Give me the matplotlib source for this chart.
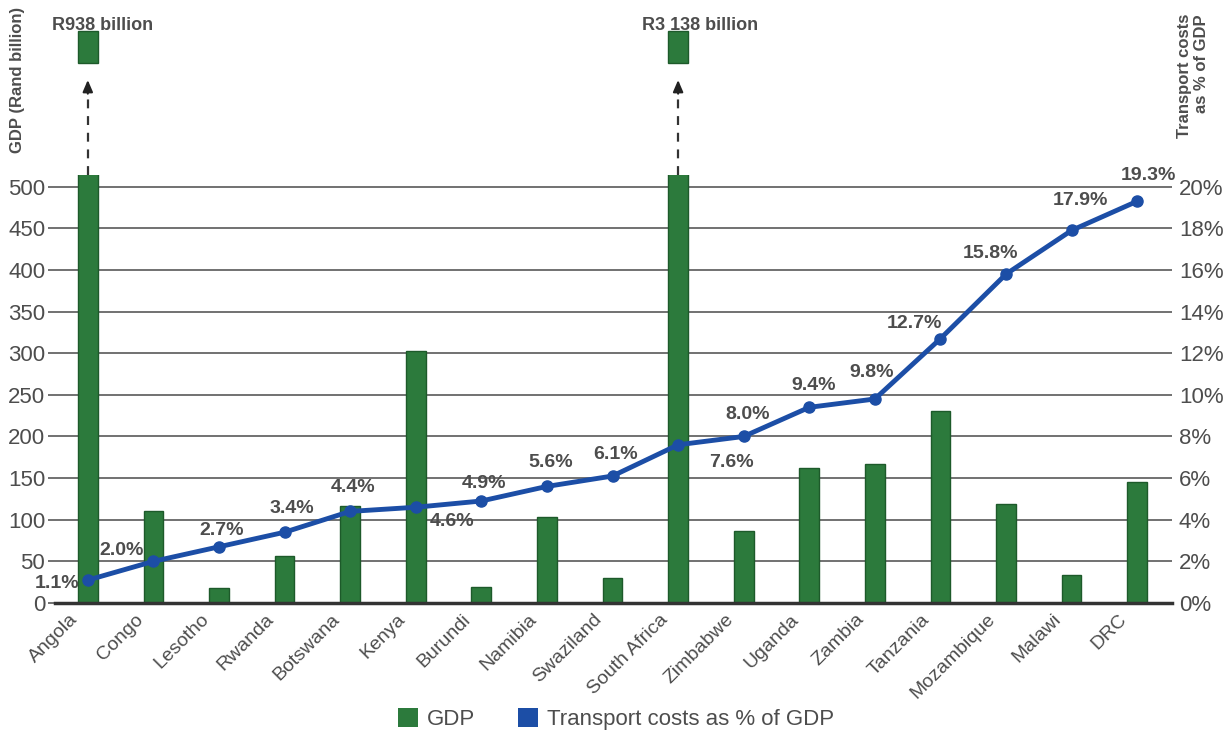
import matplotlib.pyplot as plt
import matplotlib.transforms as mtransforms
from matplotlib.patches import Patch, Rectangle
from matplotlib.ticker import FuncFormatter

plt.rcParams['font.family'] = ['Liberation Sans', 'DejaVu Sans']

# data
countries = ['Angola', 'Congo', 'Lesotho', 'Rwanda', 'Botswana', 'Kenya', 'Burundi',
             'Namibia', 'Swaziland', 'South Africa', 'Zimbabwe', 'Uganda', 'Zambia',
             'Tanzania', 'Mozambique', 'Malawi', 'DRC']
gdp = [938, 111, 18, 57, 117, 303, 19, 103, 30, 3138, 87, 162, 167, 231, 119, 34, 145]
transport_pct = [1.1, 2.0, 2.7, 3.4, 4.4, 4.6, 4.9, 5.6, 6.1, 7.6, 8.0, 9.4, 9.8,
                 12.7, 15.8, 17.9, 19.3]
off_scale = {0: 'R938 billion', 9: 'R3 138 billion'}

# label offsets in pixels (dx, dy)
label_off = [(-31, -3), (-32, 11), (3, 16), (7, 24), (3, 24), (36, -14), (3, 17), (4, 24),
             (3, 22), (53, -18), (4, 22), (4, 22), (-3, 26), (-26, 15), (-16, 21), (9, 30),
             (11, 26)]

green = '#2c7a3c'
green_edge = '#1d5a2a'
blue = '#1c4ea6'
txt = '#4d4d4d'
grid_c = '#4a4a4a'

fig = plt.figure(figsize=(12.32, 7.36), dpi=100)
ax = fig.add_axes([55 / 1232, 1 - 603 / 736, (1172 - 55) / 1232, 428 / 736])

x = list(range(len(countries)))
ax.bar(x, gdp, width=0.3, color=green, edgecolor=green_edge, linewidth=1, zorder=2)
ax.set_xlim(-0.5, 16.53)
ax.set_ylim(0, 514)
ax.set_yticks(range(0, 501, 50))
ax.yaxis.grid(True, color=grid_c, lw=1.1)
ax.set_axisbelow(True)
ax.set_xticks(x)
ax.set_xticklabels([])
ax.tick_params(axis='x', length=0)
ax.tick_params(axis='y', length=5, color=grid_c, width=1.1, pad=2, labelsize=16,
               labelcolor=txt)
for s in ['top', 'left', 'right']:
    ax.spines[s].set_visible(False)
ax.spines['bottom'].set_color('#333333')
ax.spines['bottom'].set_linewidth(2.5)
ax.spines['bottom'].set_zorder(3)

# country names, rotated
for i, name in enumerate(countries):
    ax.annotate(name, xy=(i, 0), xycoords=('data', 'axes fraction'), xytext=(-19, -8),
                textcoords='offset pixels', rotation=45, ha='right', va='top',
                rotation_mode='anchor', fontsize=14, color=txt, annotation_clip=False)

ax2 = ax.twinx()
ax2.plot(x, transport_pct, color=blue, lw=3.5, marker='o', ms=8, mfc=blue, mec=blue,
         solid_joinstyle='round', zorder=4)
ax2.set_ylim(0, 514 / 25)
ax2.set_yticks(range(0, 21, 2))
ax2.yaxis.set_major_formatter(FuncFormatter(lambda v, p: f'{v:.0f}%'))
ax2.tick_params(axis='y', length=0, pad=5, labelsize=16, labelcolor=txt)
for s in ['top', 'left', 'right', 'bottom']:
    ax2.spines[s].set_visible(False)

for i, v in enumerate(transport_pct):
    ax2.annotate(f'{v:.1f}%', xy=(i, v), xytext=label_off[i], textcoords='offset pixels',
                 ha='center', va='center', fontsize=14, fontweight='bold', color=txt,
                 zorder=5)

# bars that run off the scale
trans = mtransforms.blended_transform_factory(ax.transData, ax.transAxes)
for i, lab in off_scale.items():
    ax.plot([i, i], [1.0, 1.2], transform=trans, ls=(0, (4, 3.5)), color='#333333',
            lw=1.6, clip_on=False)
    ax.annotate('', xy=(i, 1.222), xytext=(i, 1.19), xycoords=trans, textcoords=trans,
                arrowprops=dict(arrowstyle='-|>,head_width=0.3,head_length=0.7',
                                color='#222222', lw=1.5, shrinkA=0, shrinkB=0),
                annotation_clip=False)
    ax.add_patch(Rectangle((i - 0.15, 1.262), 0.3, 0.074, transform=trans,
                           facecolor=green, edgecolor=green_edge, lw=1, clip_on=False))
    ax.text(i - 0.55, 1.33, lab, transform=trans, ha='left', va='bottom', fontsize=13,
            fontweight='bold', color=txt, clip_on=False)

fig.text(18 / 1232, 1 - 80 / 736, 'GDP (Rand billion)', rotation=90, ha='center',
         va='center', fontsize=12, fontweight='bold', color=txt)
fig.text(1193 / 1232, 1 - 14 / 736, 'Transport costs\nas % of GDP', rotation=90,
         ha='center', va='top', multialignment='right', fontsize=12, fontweight='bold',
         color=txt, linespacing=1.1)

handles = [Patch(facecolor=green), Patch(facecolor=blue)]
leg = fig.legend(handles, ['GDP', 'Transport costs as % of GDP'], loc='center',
                 bbox_to_anchor=(0.5, 1 - 719 / 736), ncol=2, frameon=False, fontsize=16,
                 handlelength=0.9, handleheight=0.9, handletextpad=0.4, columnspacing=1.9)
for t in leg.get_texts():
    t.set_color(txt)

fig.savefig('out.png', dpi=100)
